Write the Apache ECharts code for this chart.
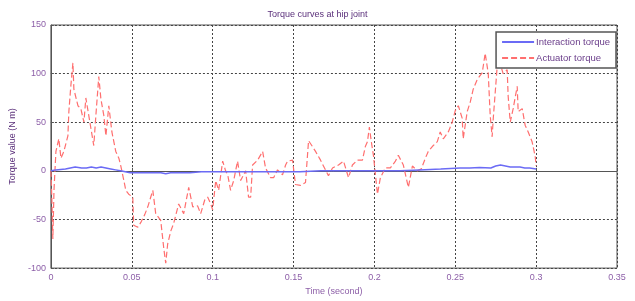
<!DOCTYPE html>
<html>
<head>
<meta charset="utf-8">
<script src="https://cdn.jsdelivr.net/npm/echarts@6/dist/echarts.min.js"></script>
<style>
  html, body { margin: 0; padding: 0; background: #fff; }
  #chart { width: 635px; height: 301px; }
</style>
</head>
<body>
<div id="chart"></div>
<script>
// 时间轴刻度
var xTicks = [0, 0.05, 0.1, 0.15, 0.2, 0.25, 0.3, 0.35];
var yTicks = [-100, -50, 0, 50, 100, 150];

// Interaction torque (blue)
var interTime = [0, 0.003, 0.006, 0.009, 0.012, 0.015, 0.019, 0.022, 0.025, 0.028, 0.031, 0.034, 0.037, 0.040, 0.043,
  0.046, 0.049, 0.056, 0.062, 0.068, 0.071, 0.074, 0.080, 0.086, 0.093, 0.099, 0.105, 0.117, 0.130, 0.142, 0.154,
  0.167, 0.179, 0.191, 0.204, 0.216, 0.228, 0.241, 0.253, 0.259, 0.265, 0.272, 0.275, 0.278, 0.281, 0.284, 0.287,
  0.290, 0.293, 0.296, 0.300];
var interValue = [0, 1, 1.5, 2, 3, 4, 3, 3, 4, 3, 4, 3, 2, 1, 0,
  -1, -2, -2, -2, -2, -3, -2, -2, -2, -1, -1, -1, -1, -1, -1, -1,
  0, 0, 0, 0, 0, 1, 2, 3, 3, 3.5, 3, 5, 6, 5, 4, 4,
  4, 3, 3, 2];

// Actuator torque (red, dashed)
var actTime = [0, 0.0006, 0.0012, 0.0019, 0.0031, 0.0049, 0.0062, 0.0080, 0.0105, 0.0111, 0.0123, 0.0136, 0.0142,
  0.0167, 0.0185, 0.0204, 0.0216, 0.0228, 0.0247, 0.0265, 0.0278, 0.0296, 0.0309, 0.0327, 0.0340, 0.0358, 0.0377,
  0.0401, 0.0420, 0.0432, 0.0451, 0.0463, 0.0481, 0.0506, 0.0512, 0.0537, 0.0556, 0.0580, 0.0599, 0.0630, 0.0648,
  0.0679, 0.0698, 0.0710, 0.0722, 0.0741, 0.0759, 0.0790, 0.0821, 0.0852, 0.0877, 0.0907, 0.0926, 0.0951, 0.0969,
  0.0988, 0.1000, 0.1019, 0.1037, 0.1062, 0.1080, 0.1093, 0.1111, 0.1130, 0.1154, 0.1173, 0.1204, 0.1222, 0.1235,
  0.1247, 0.1278, 0.1309, 0.1327, 0.1358, 0.1377, 0.1401, 0.1432, 0.1451, 0.1463, 0.1494, 0.1512, 0.1543, 0.1574,
  0.1593, 0.1617, 0.1636, 0.1667, 0.1685, 0.1716, 0.1741, 0.1778, 0.1809, 0.1840, 0.1864, 0.1895, 0.1926, 0.1944,
  0.1957, 0.1969, 0.1981, 0.1994, 0.2019, 0.2037, 0.2068, 0.2099, 0.2130, 0.2148, 0.2179, 0.2210, 0.2235, 0.2265,
  0.2290, 0.2315, 0.2333, 0.2358, 0.2389, 0.2407, 0.2426, 0.2457, 0.2481, 0.2500, 0.2519, 0.2543, 0.2549, 0.2574,
  0.2593, 0.2611, 0.2636, 0.2667, 0.2685, 0.2704, 0.2716, 0.2728, 0.2735, 0.2759, 0.2778, 0.2796, 0.2821, 0.2827,
  0.2840, 0.2858, 0.2883, 0.2889, 0.2914, 0.2932, 0.2951, 0.2975, 0.2994, 0.3000];
var actValue = [0, -30, -70, -20, 20, 33, 13, 20, 36, 61, 87, 111, 84,
  67, 64, 50, 75, 77, 44, 26, 57, 97, 74, 57, 36, 67, 40,
  20, 13, 5, -10, -20, -24, -27, -56, -58, -53, -45, -37, -20, -44,
  -51, -80, -95, -75, -62, -54, -34, -44, -17, -37, -36, -44, -30, -27,
  -34, -40, -10, -20, 10, 0, -4, -20, -10, 10, -10, 0, -27, -27,
  6, 11, 20, 3, -7, -7, 1, -4, 6, 10, 11, -14, -15, -12,
  31, 25, 20, 11, 5, -5, 3, 6, 10, -7, 6, 11, 11, 25,
  30, 45, 30, 16, -24, -7, 3, 3, 10, 16, 6, -17, 5, 0,
  2, 13, 20, 25, 30, 40, 33, 40, 50, 62, 67, 54, 33, 61,
  71, 84, 94, 101, 121, 100, 57, 35, 54, 107, 110, 100, 104, 77,
  50, 64, 87, 61, 64, 47, 40, 30, 15, 5];

function pairs(ts, vs) {
  return ts.map(function (t, i) { return [t, vs[i]]; });
}

var font = 'Liberation Sans';
var labelColor = '#8d5fa8';

var myChart = echarts.init(document.getElementById('chart'));
myChart.setOption({
  animation: false,
  title: {
    text: 'Torque curves at hip joint',
    left: 'center',
    top: 5,
    textStyle: { fontFamily: font, fontSize: 9, fontWeight: 'normal', color: '#5a2f7a' }
  },
  legend: {
    orient: 'vertical',
    right: 19,
    top: 32,
    backgroundColor: '#fff',
    borderColor: '#555',
    borderWidth: 1.5,
    padding: [5, 6, 5, 5],
    itemGap: 6,
    itemWidth: 32,
    itemHeight: 8,
    itemStyle: { opacity: 0 },
    textStyle: { fontFamily: font, fontSize: 9.5, color: '#6a3d8a', padding: [0, 0, 0, -3] },
    data: ['Interaction torque', 'Actuator torque']
  },
  grid: {
    left: 50, right: 18, top: 25, bottom: 29,
    show: true, borderColor: '#555', borderWidth: 1
  },
  xAxis: {
    type: 'value',
    min: 0, max: 0.35, interval: 0.05,
    name: 'Time (second)',
    nameLocation: 'middle',
    nameGap: 15,
    nameTextStyle: { fontFamily: font, fontSize: 9, color: labelColor },
    axisLine: { lineStyle: { color: '#555' } },
    axisTick: { inside: true, length: 3, lineStyle: { color: '#555' } },
    axisLabel: {
      fontFamily: font, fontSize: 9, color: labelColor, margin: 5,
      formatter: function (v) { return String(Number(v.toFixed(2))); }
    },
    splitLine: { show: true, lineStyle: { color: '#444', type: [2, 2], width: 1 } }
  },
  yAxis: {
    type: 'value',
    min: -100, max: 150, interval: 50,
    name: 'Torque value (N m)',
    nameLocation: 'middle',
    nameGap: 30,
    nameTextStyle: { fontFamily: font, fontSize: 9, color: '#5a2f7a' },
    axisLine: { show: true, lineStyle: { color: '#555' } },
    axisTick: { show: true, inside: true, length: 3, lineStyle: { color: '#555' } },
    axisLabel: { fontFamily: font, fontSize: 9, color: labelColor, margin: 5 },
    splitLine: { show: true, lineStyle: { color: '#444', type: [2, 2], width: 1 } }
  },
  series: [
    {
      name: 'Interaction torque',
      type: 'line',
      showSymbol: false,
      symbol: 'none',
      smooth: false,
      lineStyle: { color: '#6b6bf5', width: 1.5 },
      itemStyle: { color: '#6b6bf5' },
      data: pairs(interTime, interValue),
      z: 3
    },
    {
      name: 'Actuator torque',
      type: 'line',
      showSymbol: false,
      symbol: 'none',
      lineStyle: { color: '#ff6f6f', width: 1.2, type: [6, 3] },
      itemStyle: { color: '#ff6f6f' },
      data: pairs(actTime, actValue),
      z: 2
    }
  ]
});
</script>
</body>
</html>
